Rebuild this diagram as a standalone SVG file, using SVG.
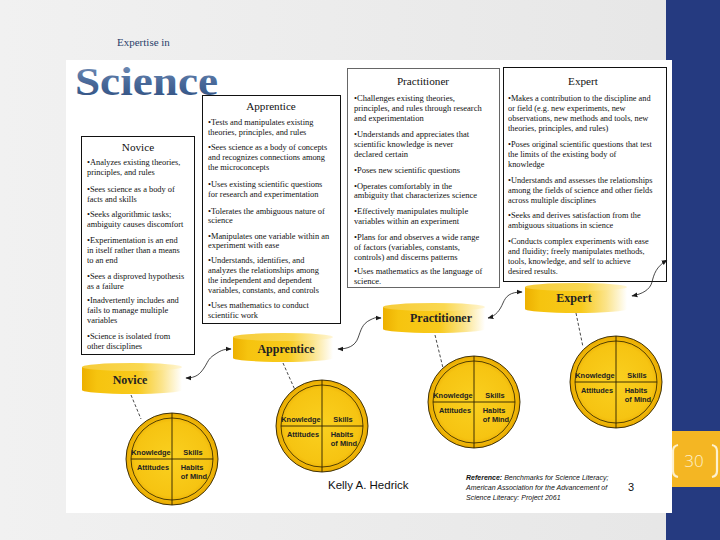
<svg xmlns="http://www.w3.org/2000/svg" width="720" height="540" viewBox="0 0 720 540">
<defs>
<linearGradient id="bg" x1="0" y1="0" x2="1" y2="0"><stop offset="0" stop-color="#f1f1f1"/><stop offset="1" stop-color="#e6e6e6"/></linearGradient>
<linearGradient id="sci" x1="0" y1="0" x2="0" y2="1"><stop offset="0" stop-color="#7d97bd"/><stop offset="0.5" stop-color="#4b6b9b"/><stop offset="1" stop-color="#2d4d7e"/></linearGradient>
<linearGradient id="cyl" x1="0" y1="0" x2="1" y2="0"><stop offset="0" stop-color="#edb000"/><stop offset="0.15" stop-color="#f6c40f"/><stop offset="0.55" stop-color="#f8ca1c"/><stop offset="0.8" stop-color="#fbe48c"/><stop offset="1" stop-color="#ffffff"/></linearGradient>
<linearGradient id="cyltop" x1="0" y1="0" x2="1" y2="0"><stop offset="0" stop-color="#f6cc3a"/><stop offset="0.6" stop-color="#fad850"/><stop offset="1" stop-color="#fff6d8"/></linearGradient>
<radialGradient id="disc" cx="0.5" cy="0.5" r="0.5"><stop offset="0" stop-color="#fad020"/><stop offset="0.8" stop-color="#f6c412"/><stop offset="1" stop-color="#e9aa00"/></radialGradient>
<marker id="ah" viewBox="0 0 10 10" refX="9" refY="5" markerWidth="6" markerHeight="6" markerUnits="userSpaceOnUse" orient="auto-start-reverse"><path d="M0,1 L10,5 L0,9 Z" fill="#1a1a1a"/></marker>
<style>
.box{fill:#fff;stroke:#111;stroke-width:1}
.boxg{fill:#fff;stroke:#666;stroke-width:1}
.hd{font-family:"Liberation Serif",serif;font-size:11.2px;fill:#111;text-anchor:middle}
.tx{font-family:"Liberation Serif",serif;font-size:8.3px;fill:#111}
.txa{font-family:"Liberation Serif",serif;font-size:8.4px;fill:#111}
.txp{font-family:"Liberation Serif",serif;font-size:8.5px;fill:#111}
.txn{font-family:"Liberation Serif",serif;font-size:8.4px;fill:#111}
.cyl{fill:url(#cyl);stroke:none}
.cyltop{fill:url(#cyltop);stroke:none}
.cl{font-family:"Liberation Serif",serif;font-size:12px;font-weight:bold;fill:#222;text-anchor:middle}
.disc{fill:url(#disc);stroke:#2a2000;stroke-width:0.9}
.inner{fill:none;stroke:#2a2000;stroke-width:0.8}
.dl{stroke:#2a2000;stroke-width:0.9}
.dt{font-family:"Liberation Sans",Arial,sans-serif;font-size:7.4px;font-weight:bold;fill:#222;text-anchor:middle}
.dash{fill:none;stroke:#1a1a1a;stroke-width:0.8;stroke-dasharray:3 2}
.cv{fill:none;stroke:#1a1a1a;stroke-width:0.8;marker-start:url(#ah);marker-end:url(#ah)}
.ref{font-family:"Liberation Sans",Arial,sans-serif;font-size:7px;font-style:italic;fill:#111}
</style>
</defs>

<rect x="0" y="0" width="720" height="540" fill="url(#bg)"/>
<rect x="666" y="0" width="54" height="540" fill="#253a80"/>
<rect x="666" y="431" width="54" height="56" fill="#f4b623"/>
<rect x="66" y="60" width="606" height="453" fill="#ffffff"/>

<g id="page-number">
<path d="M678,445 Q673,446 673,451 L673,471 Q673,476 678,477" fill="none" stroke="#fdf1cf" stroke-width="2.2"/>
<path d="M712,445 Q717,446 717,451 L717,471 Q717,476 712,477" fill="none" stroke="#fdf1cf" stroke-width="2.2"/>
<text x="694" y="467" font-family="'Open Sans','Liberation Sans',sans-serif" font-size="17" font-weight="300" fill="#fdf1cf" text-anchor="middle">30</text>
</g>

<g id="title">
<text x="117" y="46" font-family="'Liberation Serif',serif" font-size="11" fill="#2a3f6b">Expertise in</text>
<text x="75" y="95" font-family="'Liberation Serif',serif" font-size="39" font-weight="bold" fill="url(#sci)" textLength="143" lengthAdjust="spacingAndGlyphs">Science</text>
</g>

<g id="box-practitioner">
<rect class="boxg" x="347.5" y="68.5" width="152" height="219"/>
<text class="hd" x="423" y="85">Practitioner</text>
<text class="txp" x="354" y="100.5">•Challenges existing theories,</text>
<text class="txp" x="354" y="110.5">principles, and rules through research</text>
<text class="txp" x="354" y="120.5">and experimentation</text>
<text class="txp" x="354" y="136.5">•Understands and appreciates that</text>
<text class="txp" x="354" y="146.5">scientific knowledge is never</text>
<text class="txp" x="354" y="156.5">declared certain</text>
<text class="txp" x="354" y="172.5">•Poses new scientific questions</text>
<text class="txp" x="354" y="188.5">•Operates comfortably in the</text>
<text class="txp" x="354" y="197.5">ambiguity that characterizes science</text>
<text class="txp" x="354" y="213.5">•Effectively manipulates multiple</text>
<text class="txp" x="354" y="223.5">variables within an experiment</text>
<text class="txp" x="354" y="239.5">•Plans for and observes a wide range</text>
<text class="txp" x="354" y="249.5">of factors (variables, constants,</text>
<text class="txp" x="354" y="259.5">controls) and discerns patterns</text>
<text class="txp" x="354" y="273.5">•Uses mathematics as the language of</text>
<text class="txp" x="354" y="283.5">science.</text>
</g>

<g id="box-expert">
<rect class="box" x="503.5" y="67.5" width="163" height="214"/>
<text class="hd" x="583" y="85">Expert</text>
<text class="tx" x="508" y="100.5">•Makes a contribution to the discipline and</text>
<text class="tx" x="508" y="110.5">or field (e.g. new experiments, new</text>
<text class="tx" x="508" y="120.5">observations, new methods and tools, new</text>
<text class="tx" x="508" y="130.5">theories, principles, and rules)</text>
<text class="tx" x="508" y="146.5">•Poses original scientific questions that test</text>
<text class="tx" x="508" y="156.5">the limits of the existing body of</text>
<text class="tx" x="508" y="166.5">knowledge</text>
<text class="tx" x="508" y="182.5">•Understands and assesses the relationships</text>
<text class="tx" x="508" y="192.5">among the fields of science and other fields</text>
<text class="tx" x="508" y="202.5">across multiple disciplines</text>
<text class="tx" x="508" y="217.5">•Seeks and derives satisfaction from the</text>
<text class="tx" x="508" y="227.5">ambiguous situations in science</text>
<text class="tx" x="508" y="243.5">•Conducts complex experiments with ease</text>
<text class="tx" x="508" y="253.5">and fluidity; freely manipulates methods,</text>
<text class="tx" x="508" y="263.5">tools, knowledge, and self to achieve</text>
<text class="tx" x="508" y="273.5">desired results.</text>
</g>

<g id="box-apprentice">
<rect class="box" x="202.5" y="95.5" width="138" height="228"/>
<text class="hd" x="271" y="110">Apprentice</text>
<text class="txa" x="208" y="124.5">•Tests and manipulates existing</text>
<text class="txa" x="208" y="134.5">theories, principles, and rules</text>
<text class="txa" x="208" y="149.5">•Sees science as a body of concepts</text>
<text class="txa" x="208" y="159.5">and recognizes connections among</text>
<text class="txa" x="208" y="169.5">the microconcepts</text>
<text class="txa" x="208" y="186.5">•Uses existing scientific questions</text>
<text class="txa" x="208" y="196.5">for research and experimentation</text>
<text class="txa" x="208" y="213.5">•Tolerates the ambiguous nature of</text>
<text class="txa" x="208" y="222.5">science</text>
<text class="txa" x="208" y="238.5">•Manipulates one variable within an</text>
<text class="txa" x="208" y="247.5">experiment with ease</text>
<text class="txa" x="208" y="262.5">•Understands, identifies, and</text>
<text class="txa" x="208" y="272.5">analyzes the relationships among</text>
<text class="txa" x="208" y="282.5">the independent and dependent</text>
<text class="txa" x="208" y="292.5">variables, constants, and controls</text>
<text class="txa" x="208" y="307.5">•Uses mathematics to conduct</text>
<text class="txa" x="208" y="317.5">scientific work</text>
</g>

<g id="box-novice">
<rect class="box" x="81.5" y="136.5" width="113" height="218"/>
<text class="hd" x="138" y="151" font-size="11.5">Novice</text>
<text class="txn" x="87" y="164.5">•Analyzes existing theories,</text>
<text class="txn" x="87" y="174.5">principles, and rules</text>
<text class="txn" x="87" y="191.5">•Sees science as a body of</text>
<text class="txn" x="87" y="201.5">facts and skills</text>
<text class="txn" x="87" y="216.5">•Seeks algorithmic tasks;</text>
<text class="txn" x="87" y="226.5">ambiguity causes discomfort</text>
<text class="txn" x="87" y="242.5">•Experimentation is an end</text>
<text class="txn" x="87" y="252.5">in itself rather than a means</text>
<text class="txn" x="87" y="262.5">to an end</text>
<text class="txn" x="87" y="278.5">•Sees a disproved hypothesis</text>
<text class="txn" x="87" y="288.5">as a failure</text>
<text class="txn" x="87" y="302.5">•Inadvertently includes and</text>
<text class="txn" x="87" y="312.5">fails to manage multiple</text>
<text class="txn" x="87" y="322.5">variables</text>
<text class="txn" x="87" y="338.5">•Science is isolated  from</text>
<text class="txn" x="87" y="348.5">other disciplines</text>
</g>

<g id="cyl-novice">
<path class="cyl" d="M82,367 L82,390 A50,4 0 0 0 182,390 L182,367 Z"/>
<ellipse class="cyltop" cx="132" cy="367" rx="50" ry="4"/>
<text class="cl" x="130" y="384">Novice</text>
</g>
<g id="cyl-apprentice">
<path class="cyl" d="M233,337 L233,358 A50,4 0 0 0 333,358 L333,337 Z"/>
<ellipse class="cyltop" cx="283" cy="337" rx="50" ry="4"/>
<text class="cl" x="286" y="353">Apprentice</text>
</g>
<g id="cyl-practitioner">
<path class="cyl" d="M383,307 L383,329 A51,4 0 0 0 485,329 L485,307 Z"/>
<ellipse class="cyltop" cx="434" cy="307" rx="51" ry="4"/>
<text class="cl" x="441" y="322">Practitioner</text>
</g>
<g id="cyl-expert">
<path class="cyl" d="M525,287 L525,309 A51,4 0 0 0 627,309 L627,287 Z"/>
<ellipse class="cyltop" cx="576" cy="287" rx="51" ry="4"/>
<text class="cl" x="574" y="302">Expert</text>
</g>

<g id="disc-novice">
<circle class="disc" cx="172" cy="459" r="46"/>
<circle class="inner" cx="172" cy="459" r="41"/>
<line class="dl" x1="172" y1="413" x2="172" y2="505"/>
<line class="dl" x1="131" y1="459" x2="213" y2="459"/>
<text class="dt" x="151" y="455">Knowledge</text>
<text class="dt" x="193" y="455">Skills</text>
<text class="dt" x="153" y="469.5">Attitudes</text>
<text class="dt" x="192" y="469.5">Habits</text>
<text class="dt" x="194" y="479">of Mind</text>
</g>
<g id="disc-apprentice">
<circle class="disc" cx="322" cy="426" r="46"/>
<circle class="inner" cx="322" cy="426" r="41"/>
<line class="dl" x1="322" y1="380" x2="322" y2="472"/>
<line class="dl" x1="281" y1="426" x2="363" y2="426"/>
<text class="dt" x="301" y="422">Knowledge</text>
<text class="dt" x="343" y="422">Skills</text>
<text class="dt" x="303" y="436.5">Attitudes</text>
<text class="dt" x="342" y="436.5">Habits</text>
<text class="dt" x="344" y="446">of Mind</text>
</g>
<g id="disc-practitioner">
<circle class="disc" cx="474" cy="402" r="46"/>
<circle class="inner" cx="474" cy="402" r="41"/>
<line class="dl" x1="474" y1="356" x2="474" y2="448"/>
<line class="dl" x1="433" y1="402" x2="515" y2="402"/>
<text class="dt" x="453" y="398">Knowledge</text>
<text class="dt" x="495" y="398">Skills</text>
<text class="dt" x="455" y="412.5">Attitudes</text>
<text class="dt" x="494" y="412.5">Habits</text>
<text class="dt" x="496" y="422">of Mind</text>
</g>
<g id="disc-expert">
<circle class="disc" cx="616" cy="382" r="46"/>
<circle class="inner" cx="616" cy="382" r="41"/>
<line class="dl" x1="616" y1="336" x2="616" y2="428"/>
<line class="dl" x1="575" y1="382" x2="657" y2="382"/>
<text class="dt" x="595" y="378">Knowledge</text>
<text class="dt" x="637" y="378">Skills</text>
<text class="dt" x="597" y="392.5">Attitudes</text>
<text class="dt" x="636" y="392.5">Habits</text>
<text class="dt" x="638" y="402">of Mind</text>
</g>

<g id="connectors">
<path class="dash" d="M131,395 L141,419"/>
<path class="dash" d="M283,363 L295,390"/>
<path class="dash" d="M435,335 L443,368"/>
<path class="dash" d="M576,313 L583,347"/>
<path class="cv" d="M186,378 C196,378 200,374 204,368 S208,359 214,355 S223,349 231,349"/>
<path class="cv" d="M338,349 C348,349 355,346 358,338 S362,324 370,320 S377,318 381,318"/>
<path class="cv" d="M488,318 C496,316 500,310 503,303 S510,292 522,292"/>
<path class="cv" d="M632,296 C642,294 650,290 652,282 S656,267 667,260"/>
</g>

<g id="credits">
<text x="328" y="489" font-family="'Liberation Sans',Arial,sans-serif" font-size="11.5" fill="#111">Kelly A. Hedrick</text>
<text class="ref" x="466" y="480"><tspan font-weight="bold">Reference:</tspan> Benchmarks for Science Literacy;</text>
<text class="ref" x="466" y="490">American Association for the Advancement of</text>
<text class="ref" x="466" y="500">Science Literacy: Project 2061</text>
<text x="628" y="491" font-family="'Liberation Sans',Arial,sans-serif" font-size="11" fill="#111">3</text>
</g>
</svg>
